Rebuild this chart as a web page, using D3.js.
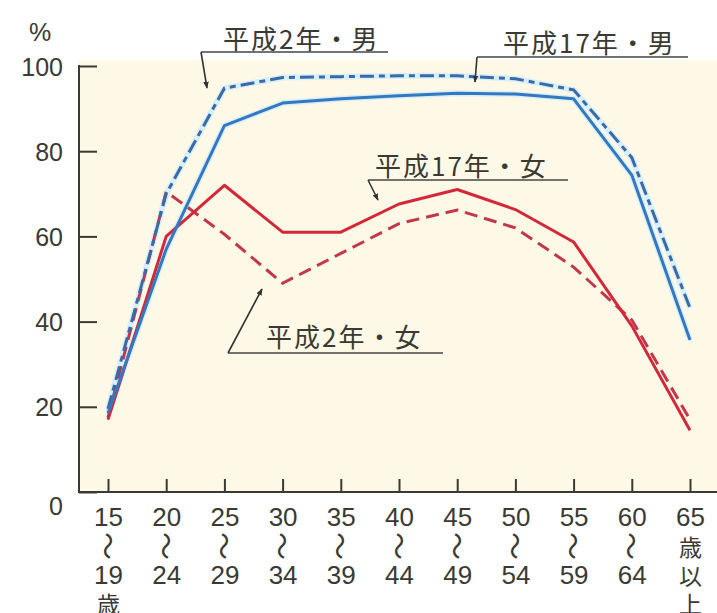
<!DOCTYPE html>
<html><head><meta charset="utf-8">
<script src="https://cdn.jsdelivr.net/npm/d3@7/dist/d3.min.js"></script>
<style>
html,body{margin:0;padding:0;background:#fff;}
svg{display:block;}
</style></head>
<body>
<svg id="chart" width="717" height="613"></svg>
<script>
// ---- data ----
const ageGroups = ["15-19","20-24","25-29","30-34","35-39","40-44","45-49","50-54","55-59","60-64","65+"];
const tickLines = [
  ["15","〜","19","歳"],["20","〜","24"],["25","〜","29"],["30","〜","34"],["35","〜","39"],
  ["40","〜","44"],["45","〜","49"],["50","〜","54"],["55","〜","59"],["60","〜","64"],["65","歳","以","上"]
];
const yTicks = [0,20,40,60,80,100];
const male2005   = [18.5, 57, 86, 91.3, 92.3, 93.0, 93.6, 93.4, 92.3, 74.4, 35.7];
const male1990   = [19.5, 70, 94.8, 97.3, 97.5, 97.7, 97.7, 97.0, 94.4, 78.5, 43.2];
const female2005 = [17.0, 60, 72.0, 61.0, 61.0, 67.6, 71.0, 66.3, 58.7, 39.0, 14.5];
const female1990 = [17.5, 70.5, 60.5, 49.0, 56.0, 63.0, 66.2, 62.0, 52.8, 40.4, 17.0];
const seriesNames = ["平成2年・男","平成17年・男","平成17年・女","平成2年・女"];

// ---- chart ----
const svg = d3.select("#chart");
const x = d3.scalePoint().domain(ageGroups).range([108, 690]);
const y = d3.scaleLinear().domain([0, 100]).range([492, 66]);
const axisX = 79;

// plot background
svg.append("rect").attr("x", axisX).attr("y", 60).attr("width", 717 - axisX).attr("height", y(0) - 60)
  .attr("fill", "#fef9e6");

const ink = "#3a3a32";
const numFont = "'Liberation Sans', Arial, sans-serif";
const jpFont = "'Noto Sans CJK JP', sans-serif";

// y axis
const gy = svg.append("g").attr("transform", `translate(${axisX},0)`)
  .call(d3.axisLeft(y).tickValues(yTicks).tickSizeInner(-18).tickSizeOuter(0).tickPadding(16));
gy.select(".domain").remove();
gy.selectAll(".tick line").attr("stroke", ink).attr("stroke-width", 2);
gy.selectAll(".tick text").attr("font-family", numFont).attr("font-size", 25).attr("fill", ink)
  .attr("dy", d => d === 0 ? "0.9em" : "0.36em");
svg.append("line").attr("x1", axisX).attr("x2", axisX).attr("y1", y(100) - 1).attr("y2", y(0) + 1)
  .attr("stroke", ink).attr("stroke-width", 2);

// x axis
const gx = svg.append("g").attr("transform", `translate(0,${y(0)})`)
  .call(d3.axisBottom(x).tickSizeInner(-13).tickSizeOuter(0));
gx.select(".domain").remove();
gx.selectAll(".tick line").attr("stroke", ink).attr("stroke-width", 2);
gx.selectAll(".tick text").remove();
svg.append("line").attr("x1", axisX - 1).attr("x2", 717).attr("y1", y(0)).attr("y2", y(0))
  .attr("stroke", ink).attr("stroke-width", 2);

const lineYs = [25, 54, 83, 111];
gx.selectAll(".tick").each(function(d, i) {
  const g = d3.select(this);
  tickLines[i].forEach((s, j) => {
    if (s === "〜") {
      g.append("text").text(s)
        .attr("transform", `translate(0,${lineYs[j]}) rotate(90)`)
        .attr("text-anchor", "middle").attr("dominant-baseline", "central")
        .attr("font-family", jpFont).attr("font-size", 28).attr("fill", ink);
    } else {
      const isNum = /^\d+$/.test(s);
      g.append("text").text(s).attr("x", 0).attr("y", lineYs[j])
        .attr("text-anchor", "middle").attr("dominant-baseline", "central")
        .attr("font-family", isNum ? numFont : jpFont).attr("font-size", isNum ? 26 : 23)
        .attr("fill", ink);
    }
  });
});

// % label
svg.append("text").text("%").attr("x", 40).attr("y", 32).attr("text-anchor", "middle")
  .attr("dominant-baseline", "central").attr("font-family", numFont).attr("font-size", 25).attr("fill", ink);

// lines
const line = d3.line().x((d, i) => x(ageGroups[i])).y(d => y(d));
// halos for blue lines
[male1990, male2005].forEach(s => {
  svg.append("path").datum(s).attr("d", line).attr("fill", "none")
    .attr("stroke", "#d8eff8").attr("stroke-width", 6).attr("stroke-linejoin", "round");
});
svg.append("path").datum(female1990).attr("d", line).attr("fill", "none")
  .attr("stroke", "#c23848").attr("stroke-width", 3).attr("stroke-dasharray", "13,7");
svg.append("path").datum(female2005).attr("d", line).attr("fill", "none")
  .attr("stroke", "#d4283a").attr("stroke-width", 3).attr("stroke-linejoin", "round");
svg.append("path").datum(male1990).attr("d", line).attr("fill", "none")
  .attr("stroke", "#3a6aa8").attr("stroke-width", 3).attr("stroke-dasharray", "14,5,6,5");
svg.append("path").datum(male2005).attr("d", line).attr("fill", "none")
  .attr("stroke", "#3478c0").attr("stroke-width", 3).attr("stroke-linejoin", "round");

// callouts
const defs = svg.append("defs");
defs.append("marker").attr("id", "arr").attr("viewBox", "0 0 10 10").attr("refX", 9).attr("refY", 5)
  .attr("markerWidth", 7).attr("markerHeight", 7).attr("markerUnits", "userSpaceOnUse").attr("orient", "auto")
  .append("path").attr("d", "M0,1 L10,5 L0,9 Z").attr("fill", "#333");

const callouts = [
  {name: seriesNames[0], tx: 223, ty: 37, ux1: 201, ux2: 388, uy: 52, ax: 207, ay: 88},
  {name: seriesNames[1], tx: 503, ty: 41, ux1: 477, ux2: 688, uy: 57, ax: 475, ay: 82},
  {name: seriesNames[2], tx: 375, ty: 164, ux1: 368, ux2: 568, uy: 180, ax: 378, ay: 200},
  {name: seriesNames[3], tx: 266, ty: 335, ux1: 228, ux2: 443, uy: 353, ax: 262, ay: 289}
];
callouts.forEach(c => {
  svg.append("text").text(c.name).attr("x", c.tx).attr("y", c.ty).attr("dominant-baseline", "central")
    .attr("font-family", jpFont).attr("font-size", 26).attr("letter-spacing", 2).attr("fill", ink);
  svg.append("line").attr("x1", c.ux1).attr("x2", c.ux2).attr("y1", c.uy).attr("y2", c.uy)
    .attr("stroke", "#444").attr("stroke-width", 1.6);
  svg.append("line").attr("x1", c.ux1).attr("y1", c.uy).attr("x2", c.ax).attr("y2", c.ay)
    .attr("stroke", "#333").attr("stroke-width", 1.6).attr("marker-end", "url(#arr)");
});
</script>
</body></html>
